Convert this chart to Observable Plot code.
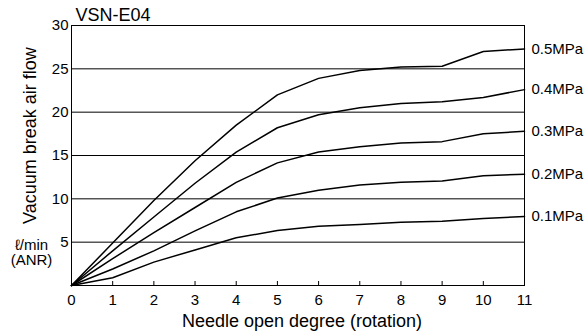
<!DOCTYPE html>
<html>
<head>
<meta charset="utf-8">
<script src="https://cdn.jsdelivr.net/npm/d3@7"></script>
<script src="https://cdn.jsdelivr.net/npm/@observablehq/plot@0.6"></script>
<style>
  html, body { margin: 0; padding: 0; background: #fff; }
  svg { display: block; }
</style>
</head>
<body>
<div id="chart"></div>
<script>
const rotations = [0, 1, 2, 3, 4, 5, 6, 7, 8, 9, 10, 11];
const seriesNames = ["0.5MPa", "0.4MPa", "0.3MPa", "0.2MPa", "0.1MPa"];
const flow05 = [0, 4.9, 9.8, 14.4, 18.5, 22.0, 23.9, 24.8, 25.2, 25.3, 27.0, 27.3];
const flow04 = [0, 4.0, 7.9, 11.8, 15.4, 18.2, 19.7, 20.5, 21.0, 21.2, 21.7, 22.6];
const flow03 = [0, 3.1, 6.1, 9.0, 11.9, 14.15, 15.4, 16.0, 16.45, 16.6, 17.5, 17.8];
const flow02 = [0, 1.9, 4.0, 6.3, 8.5, 10.1, 11.0, 11.6, 11.9, 12.05, 12.65, 12.85];
const flow01 = [0, 0.9, 2.7, 4.1, 5.5, 6.35, 6.85, 7.05, 7.3, 7.42, 7.73, 7.96];
const xTicks = [0, 1, 2, 3, 4, 5, 6, 7, 8, 9, 10, 11];
const yTicks = [5, 10, 15, 20, 25, 30];
const gridValues = [5, 10, 15, 20, 25];
const chartTitle = "VSN-E04";
const xLabel = "Needle open degree (rotation)";
const yLabel = "Vacuum break air flow";
const unitLabel = "ℓ/min\n(ANR)";

const allSeries = [flow05, flow04, flow03, flow02, flow01];
const rows = [];
allSeries.forEach((vals, i) => {
  vals.forEach((v, j) => rows.push({series: seriesNames[i], x: rotations[j], y: v}));
});
const ends = rows.filter(d => d.x === rotations[rotations.length - 1]);

const chart = Plot.plot({
  width: 586,
  height: 334,
  marginLeft: 71,
  marginRight: 62,
  marginTop: 25,
  marginBottom: 49,
  style: {fontFamily: "'Liberation Sans', Arial, sans-serif", fontSize: "15px", background: "#fff", color: "#000", overflow: "visible"},
  x: {domain: [0, 11]},
  y: {domain: [0, 30]},
  marks: [
    Plot.ruleY(gridValues, {stroke: "#000", strokeWidth: 1}),
    Plot.frame({stroke: "#000", strokeWidth: 1}),
    Plot.tickX(xTicks, {x: d => d, insetTop: 256, stroke: "#000"}),
    Plot.axisX({ticks: xTicks, tickSize: 0, tickPadding: 9, label: null, fontSize: 15}),
    Plot.axisY({ticks: yTicks, tickSize: 0, tickPadding: 3, label: null, fontSize: 15}),
    Plot.line(rows, {x: "x", y: "y", z: "series", stroke: "#000", strokeWidth: 1.5}),
    Plot.text(ends, {x: "x", y: "y", text: "series", textAnchor: "start", dx: 7, fontSize: 15}),
    Plot.text([chartTitle], {frameAnchor: "top-left", text: d => d, textAnchor: "start", lineAnchor: "middle", dx: 4, dy: -10, fontSize: 18}),
    Plot.text([xLabel], {frameAnchor: "bottom", text: d => d, textAnchor: "middle", lineAnchor: "middle", dx: 4, dy: 36, fontSize: 18}),
    Plot.text([yLabel], {frameAnchor: "left", text: d => d, rotate: -90, textAnchor: "middle", lineAnchor: "middle", dx: -41, dy: -20, fontSize: 18}),
    Plot.text([unitLabel], {frameAnchor: "left", text: d => d, textAnchor: "middle", lineAnchor: "middle", dx: -40, dy: 97, fontSize: 15, lineHeight: 1.05})
  ]
});
document.getElementById("chart").appendChild(chart);
</script>
</body>
</html>
